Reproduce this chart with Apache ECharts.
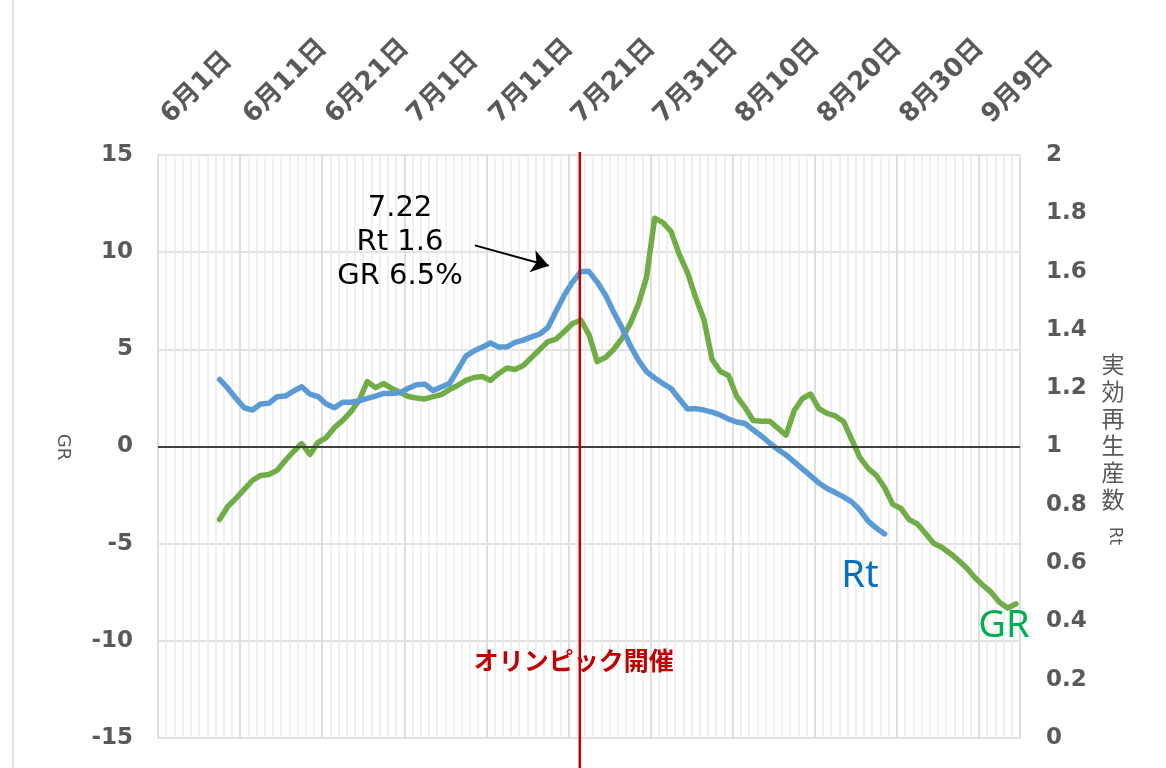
<!DOCTYPE html>
<html>
<head>
<meta charset="utf-8">
<script src="https://cdn.jsdelivr.net/npm/echarts@6/dist/echarts.min.js"></script>
<style>
  html, body { margin: 0; padding: 0; background: #fff; }
  #chart { width: 1166px; height: 768px; }
</style>
</head>
<body>
<div id="chart"></div>
<script>
// Day 0 of the x axis is 6月1日; one unit per day.
const tickLabels = ['6月1日', '6月11日', '6月21日', '7月1日', '7月11日', '7月21日',
                    '7月31日', '8月10日', '8月20日', '8月30日', '9月9日'];

// Effective reproduction number Rt, daily from 6月8日 (day 7)
const rtStartDay = 7;
const rtValues = [
  1.23, 1.20, 1.165, 1.133, 1.125, 1.146, 1.148, 1.171, 1.173, 1.19,
  1.205, 1.18, 1.171, 1.146, 1.133, 1.152, 1.152, 1.157, 1.165, 1.173,
  1.182, 1.182, 1.185, 1.20, 1.212, 1.214, 1.192, 1.204, 1.216, 1.262,
  1.31, 1.328, 1.341, 1.355, 1.341, 1.342, 1.357, 1.365, 1.376, 1.386,
  1.408, 1.465, 1.52, 1.564, 1.6, 1.6, 1.564, 1.52, 1.461, 1.408,
  1.348, 1.297, 1.257, 1.235, 1.216, 1.199, 1.163, 1.129, 1.13, 1.125,
  1.118, 1.108, 1.094, 1.084, 1.079, 1.057, 1.036, 1.012, 0.99, 0.971,
  0.947, 0.923, 0.899, 0.875, 0.856, 0.842, 0.827, 0.81, 0.782, 0.744,
  0.72, 0.70
];

// Growth rate GR (%), daily from 6月8日 (day 7)
const grStartDay = 7;
const grValues = [
  -3.76, -3.09, -2.67, -2.21, -1.75, -1.49, -1.44, -1.23, -0.72, -0.26,
  0.15, -0.41, 0.21, 0.46, 0.98, 1.34, 1.80, 2.37, 3.34, 3.03,
  3.24, 2.98, 2.78, 2.57, 2.49, 2.45, 2.57, 2.67, 2.93, 3.14,
  3.40, 3.55, 3.60, 3.40, 3.76, 4.04, 3.96, 4.17, 4.58, 4.99,
  5.40, 5.53, 5.92, 6.33, 6.5, 5.76, 4.37, 4.58, 4.99, 5.55,
  6.3, 7.30, 8.69, 11.75, 11.52, 11.06, 9.88, 8.95, 7.66, 6.53,
  4.48, 3.86, 3.65, 2.57, 2.01, 1.34, 1.30, 1.30, 0.95, 0.59,
  1.85, 2.47, 2.70, 1.95, 1.70, 1.57, 1.29, 0.36, -0.57, -1.13,
  -1.49, -2.11, -2.98, -3.19, -3.76, -3.99, -4.48, -4.99, -5.20, -5.50,
  -5.86, -6.25, -6.74, -7.15, -7.51, -8.02, -8.31, -8.10
];

// Highlighted day: 7月22日 (day 51), Olympics opening
const highlightDay = 51;
const highlightText = ['7.22', 'Rt 1.6', 'GR 6.5%'];
const eventLabel = 'オリンピック開催';

const axisDays = 105;
const gray = '#595959';
const numFont = '"DejaVu Sans", Verdana, sans-serif';
const jpFont = '"DejaVu Sans", "Noto Sans CJK JP", sans-serif';

// each point sits in the middle of its day column
const toPoints = (start, arr) => arr.map((v, i) => [start + i + 0.5, v]);

const chart = echarts.init(document.getElementById('chart'), null, { renderer: 'canvas' });

const option = {
  animation: false,
  backgroundColor: '#fff',
  grid: { left: 158, top: 155, width: 862, height: 583, containLabel: false },
  xAxis: [
    {
      // daily minor grid
      type: 'value', min: 0, max: axisDays, interval: 1, position: 'top',
      axisLine: { show: false }, axisTick: { show: false }, axisLabel: { show: false },
      splitLine: { show: true, lineStyle: { color: '#EBEBEB', width: 1.5 } }
    },
    {
      // 10-day major grid and date labels
      type: 'value', min: 0, max: axisDays, interval: 10, position: 'top',
      axisLine: { show: false }, axisTick: { show: false },
      axisLabel: {
        show: true, rotate: 45, margin: 28, padding: [0, 0, 0, 11], showMaxLabel: false,
        color: gray, fontSize: 26, fontWeight: 'bold', fontFamily: jpFont,
        formatter: v => (v % 10 === 0 && tickLabels[v / 10]) ? tickLabels[v / 10] : ''
      },
      splitLine: { show: true, lineStyle: { color: '#D9D9D9', width: 1.5 } }
    }
  ],
  yAxis: [
    {
      type: 'value', min: -15, max: 15, interval: 5, position: 'left',
      axisLine: { show: false }, axisTick: { show: false },
      axisLabel: { color: gray, fontSize: 23, fontWeight: 'bold', fontFamily: numFont, margin: 25 },
      splitLine: { show: true, lineStyle: { color: '#D9D9D9', width: 1.5 } }
    },
    {
      type: 'value', min: 0, max: 2, interval: 0.2, position: 'right',
      axisLine: { show: false }, axisTick: { show: false },
      axisLabel: {
        color: gray, fontSize: 23, fontWeight: 'bold', fontFamily: numFont, margin: 26,
        formatter: v => String(+v.toFixed(1))
      },
      splitLine: { show: false }
    }
  ],
  series: [
    {
      name: 'GR', type: 'line', xAxisIndex: 0, yAxisIndex: 0,
      data: toPoints(grStartDay, grValues),
      showSymbol: false, symbol: 'none', smooth: false, z: 3,
      lineStyle: { color: '#70AD47', width: 5.5, cap: 'round', join: 'round' },
      markLine: {
        silent: true, symbol: 'none', label: { show: false },
        lineStyle: { color: '#404040', width: 2, type: 'solid' },
        data: [{ yAxis: 0 }]
      }
    },
    {
      name: 'Rt', type: 'line', xAxisIndex: 0, yAxisIndex: 1,
      data: toPoints(rtStartDay, rtValues),
      showSymbol: false, symbol: 'none', smooth: false, z: 4,
      lineStyle: { color: '#5B9BD5', width: 5.5, cap: 'round', join: 'round' },
      markLine: {
        silent: true, label: { show: false },
        symbol: ['none', 'arrow'], symbolSize: 17,
        lineStyle: { color: '#000', width: 2, type: 'solid' },
        data: [[
          { coord: [38.6, 1.69] },
          { coord: [47.6, 1.62] }
        ]]
      }
    }
  ]
};
chart.setOption(option);

// overlays: event line, annotation, series names and axis titles
const redX = chart.convertToPixel({ xAxisIndex: 0 }, highlightDay + 0.5) - 1;
const graphics = [
  { type: 'line', z: 10, shape: { x1: redX, y1: 152, x2: redX, y2: 768 },
    style: { stroke: '#C00000', lineWidth: 2.5 } },
  { type: 'text', z: 11, x: redX - 6, y: 660,
    style: { text: eventLabel, fill: '#C00000', fontSize: 25, fontWeight: 'bold',
             fontFamily: '"Noto Sans CJK JP", sans-serif', align: 'center', verticalAlign: 'middle' } },
  { type: 'text', z: 11, x: 400, y: 242,
    style: { text: highlightText.join('\n'), fill: '#000', fontSize: 29, lineHeight: 34,
             fontFamily: numFont, align: 'center', verticalAlign: 'middle' } },
  { type: 'text', z: 11, x: 860, y: 576,
    style: { text: 'Rt', fill: '#0070C0', fontSize: 38, fontFamily: '"Noto Sans", sans-serif',
             align: 'center', verticalAlign: 'middle' } },
  { type: 'text', z: 11, x: 1004, y: 626,
    style: { text: 'GR', fill: '#00B050', fontSize: 38, fontFamily: '"Noto Sans", sans-serif',
             align: 'center', verticalAlign: 'middle' } },
  { type: 'text', z: 11, x: 63, y: 447, rotation: -Math.PI / 2,
    style: { text: 'GR', fill: gray, fontSize: 18, fontFamily: numFont,
             align: 'center', verticalAlign: 'middle' } },
  { type: 'text', z: 11, x: 1113, y: 432,
    style: { text: '実\n効\n再\n生\n産\n数', fill: gray, fontSize: 23, lineHeight: 27,
             fontFamily: '"Noto Sans CJK JP", sans-serif', align: 'center', verticalAlign: 'middle' } },
  { type: 'text', z: 11, x: 1114, y: 536, rotation: -Math.PI / 2,
    style: { text: 'Rt', fill: gray, fontSize: 17, fontFamily: numFont,
             align: 'center', verticalAlign: 'middle' } },
  // chart frame edge on the left
  { type: 'line', z: 1, shape: { x1: 13, y1: 0, x2: 13, y2: 768 },
    style: { stroke: '#D9D9D9', lineWidth: 1.5 } }
];
chart.setOption({ graphic: graphics });
</script>
</body>
</html>
